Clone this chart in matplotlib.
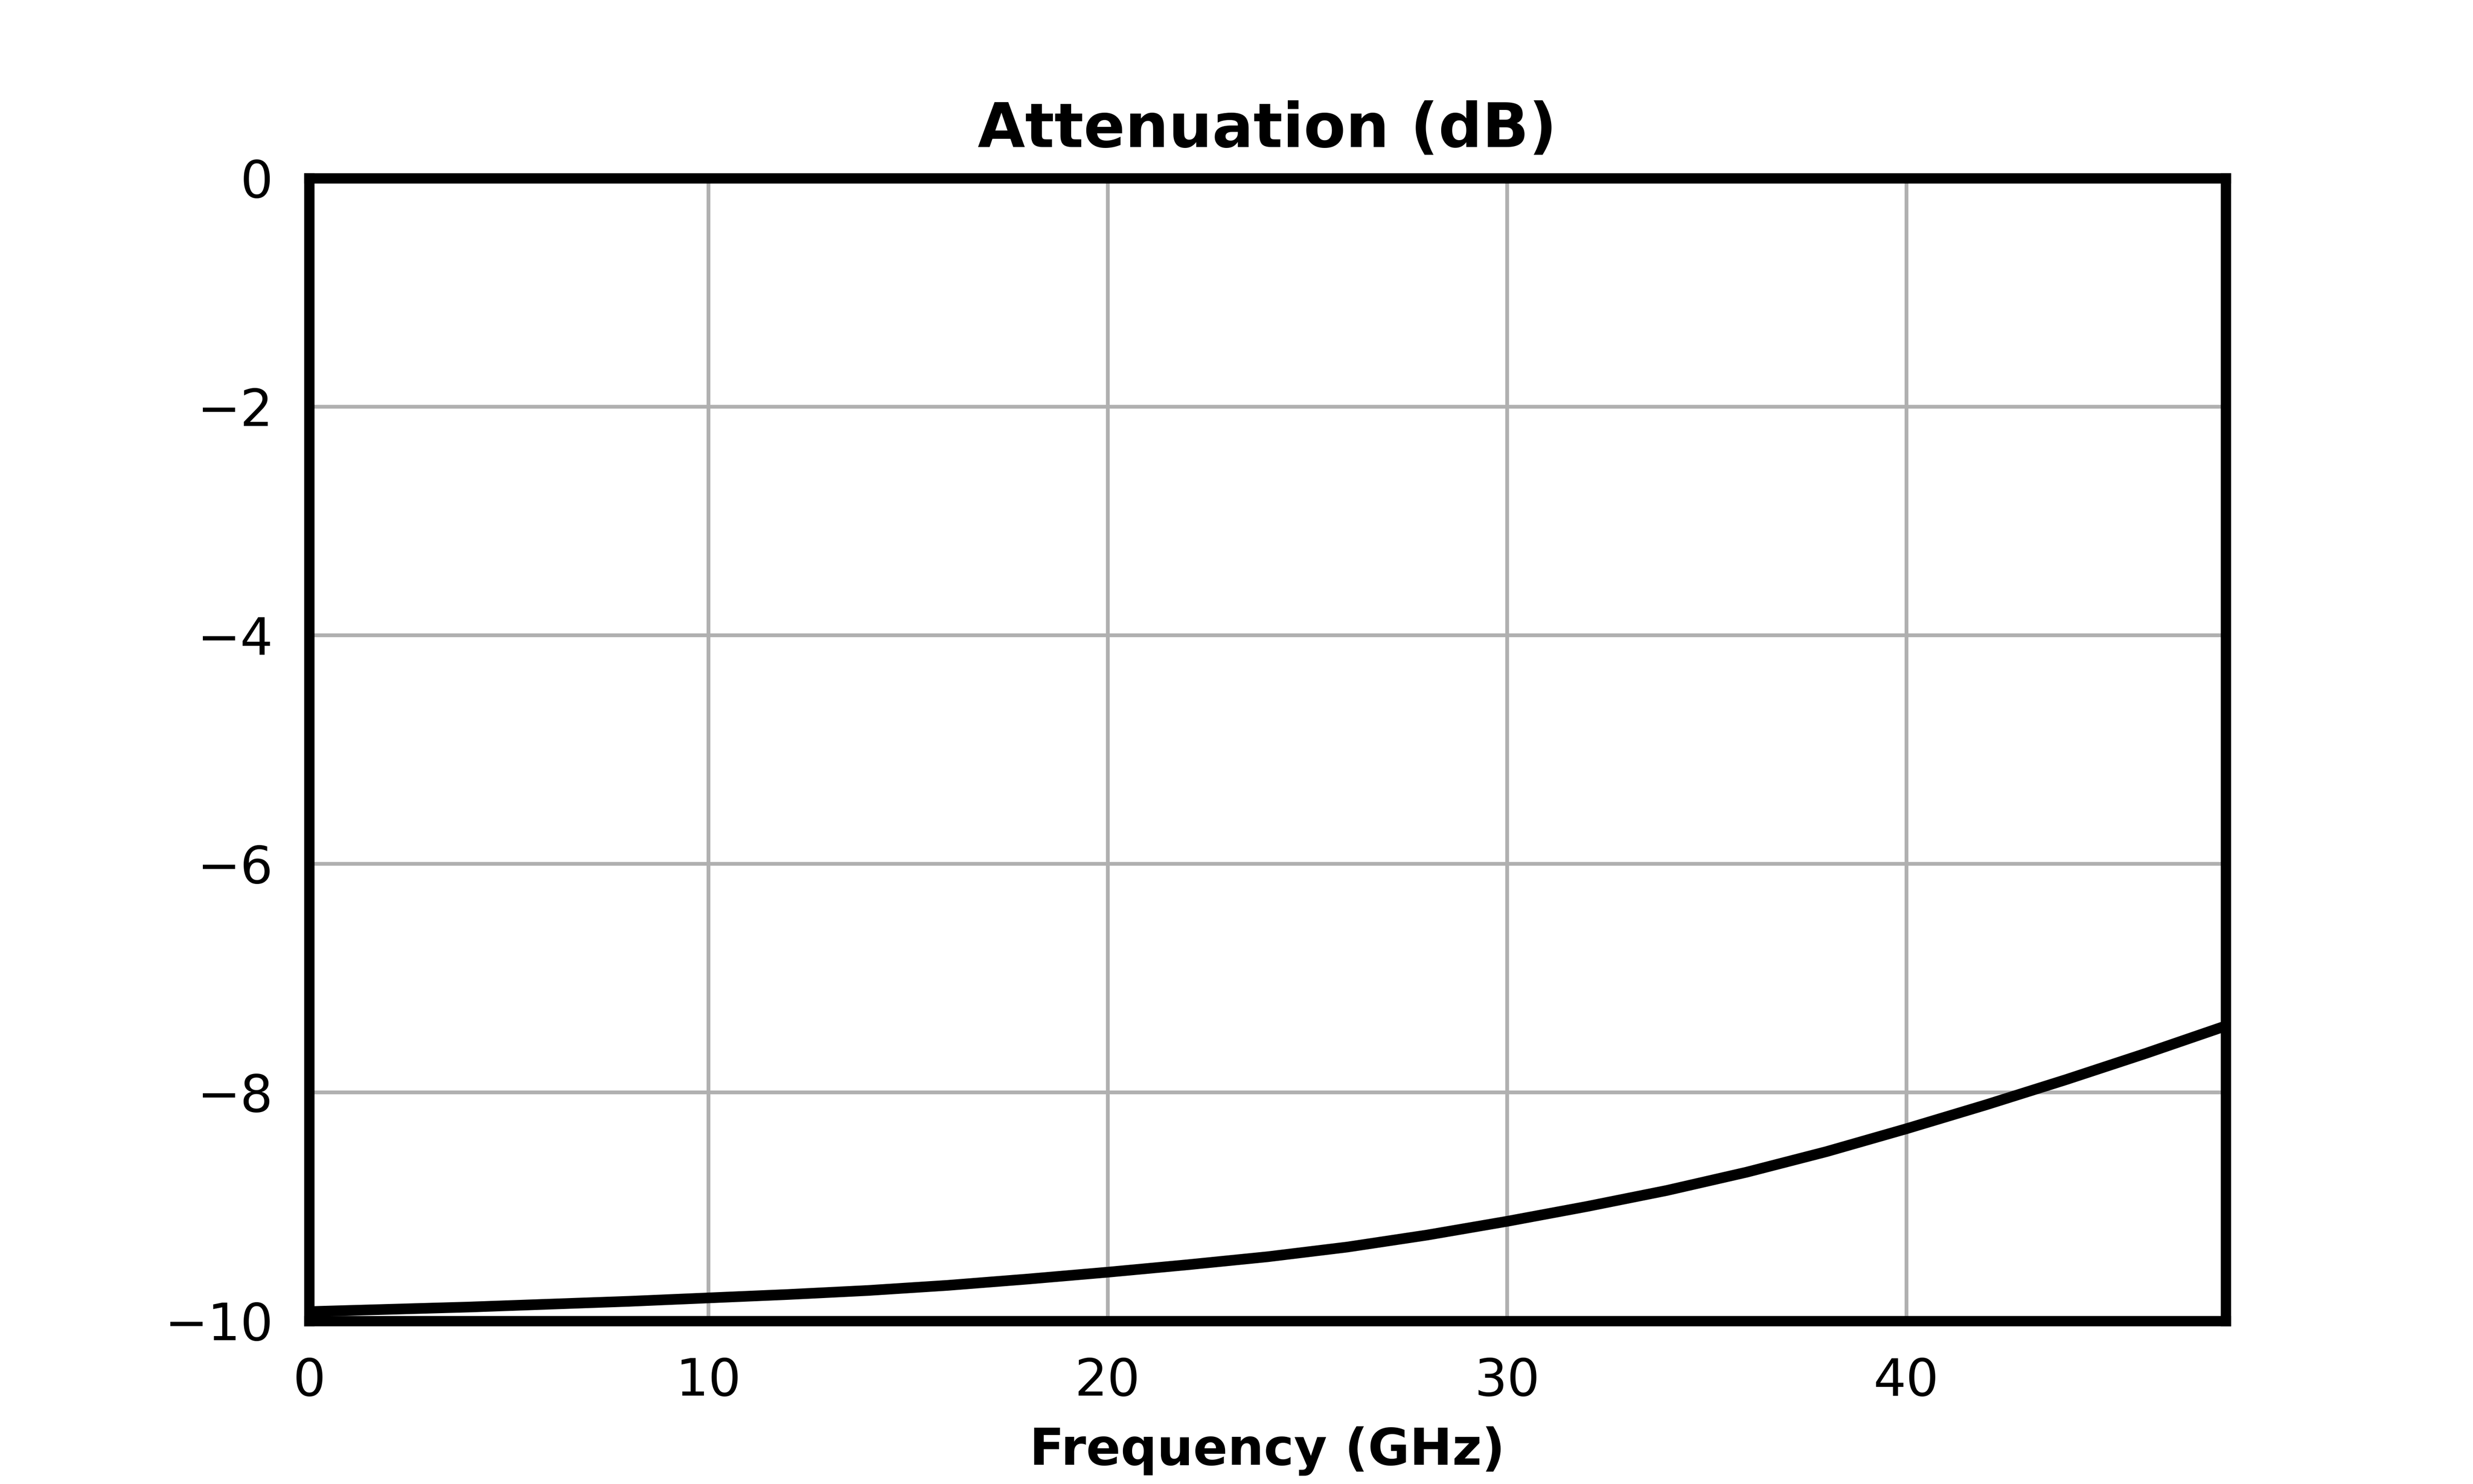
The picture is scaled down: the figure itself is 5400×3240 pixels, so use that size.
import matplotlib
matplotlib.use("Agg")
import matplotlib.pyplot as plt

freq_ghz = [0, 2, 4, 6, 8, 10, 12, 14, 16, 18, 20, 22, 24, 26, 28, 30,
            32, 34, 36, 38, 40, 42, 44, 46, 48]
atten_db = [-9.92, -9.90, -9.88, -9.855, -9.83, -9.80, -9.77, -9.735, -9.69,
            -9.635, -9.575, -9.51, -9.44, -9.355, -9.25, -9.13, -9.00, -8.86,
            -8.70, -8.52, -8.32, -8.11, -7.89, -7.66, -7.42]
x_ticks = [0, 10, 20, 30, 40]
y_ticks = [0, -2, -4, -6, -8, -10]

fig, ax = plt.subplots(figsize=(10, 6), dpi=540)
ax.plot(freq_ghz, atten_db, color="black", linewidth=3.1)
ax.set_xlim(0, 48)
ax.set_ylim(-10, 0)
ax.set_xticks(x_ticks)
ax.set_yticks(y_ticks)
ax.grid(True, color="#b0b0b0", linewidth=1.1)
ax.set_axisbelow(True)
for s in ax.spines.values():
    s.set_linewidth(3)
    s.set_color("black")
ax.tick_params(axis="both", length=0, pad=10.5, labelsize=15)
ax.set_title("Attenuation (dB)", fontsize=17.8, fontweight="bold", pad=9)
ax.set_xlabel("Frequency (GHz)", fontsize=14.8, fontweight="bold", labelpad=5.8)
fig.savefig("out.png", dpi=540)
